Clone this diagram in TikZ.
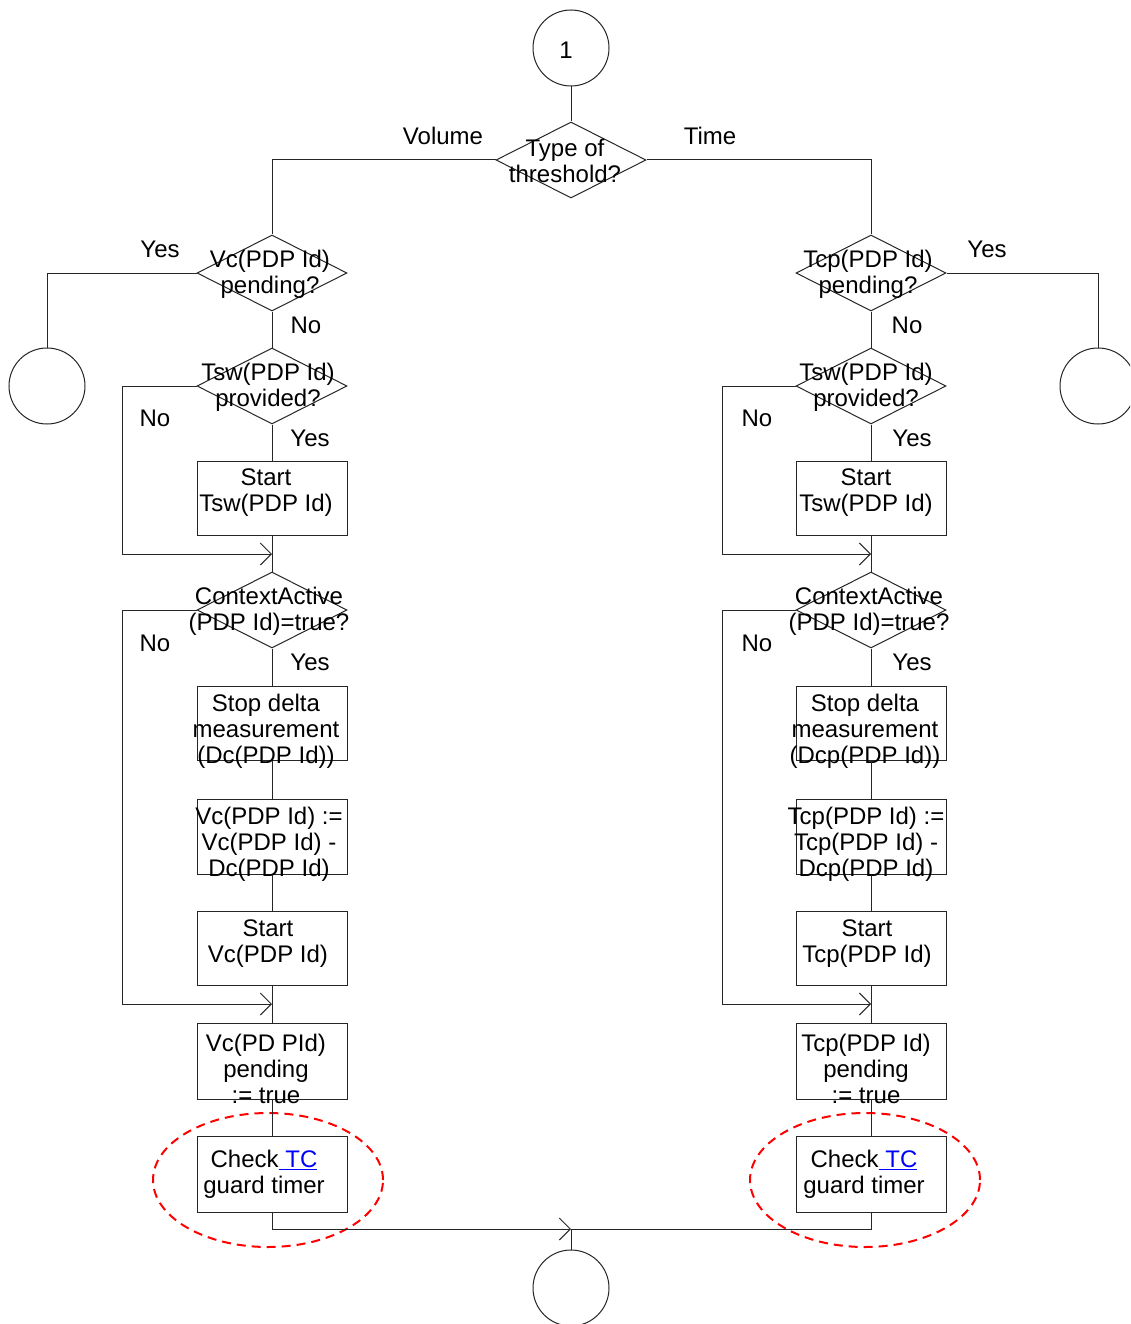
\documentclass[tikz,border=0pt]{standalone}
\usepackage{fontspec}
\setmainfont{Liberation Sans}
\usetikzlibrary{shapes.geometric,arrows.meta}
\newcommand\tclink{\textcolor{blue}{\underline{\ TC}}}
\begin{document}
\begin{tikzpicture}[x=1pt,y=-1pt,
  flow/.style={line width=1pt,draw=black!85},
  barb/.style={-{Straight Barb[length=11pt,width=22pt]}},
  dia/.style={draw=black!85,line width=1pt,diamond,minimum width=150pt,minimum height=76pt,inner sep=0pt},
  proc/.style={draw=black!85,line width=1pt,rectangle,minimum width=150pt,minimum height=74pt,inner sep=0pt},
  conn/.style={draw=black!85,line width=1pt,circle,minimum size=76pt,inner sep=0pt},
  txt/.style={align=center,inner sep=0pt,yshift=-2pt,font=\fontsize{24}{26}\selectfont},
  lbl/.style={inner sep=0pt,font=\fontsize{24}{26}\selectfont},
  guard/.style={draw=red,line width=2pt,dash pattern=on 9pt off 6pt,ellipse,minimum width=230pt,minimum height=134pt,inner sep=0pt}]
\clip (0,0) rectangle (1130,1324);
\fill[white] (0,0) rectangle (1130,1324);

% entry connector and threshold decision
\node[conn] (start) at (571,48) {};
\node[txt] (startT) at (566,48) {1};
\node[dia] (type) at (571,160) {};
\node[txt] (typeT) at (565,159) {Type of\\threshold?};
\node[lbl] (volT) at (443,136) {Volume};
\node[lbl] (timeT) at (710,136) {Time};

% ---------------- volume branch ----------------
\node[dia] (vcL) at (272,273) {};
\node[txt] (vcLT) at (270,272) {Vc(PDP Id)\\pending?};
\node[conn] (cL) at (47,386) {};
\node[dia] (tswL) at (272,386) {};
\node[txt] (tswLT) at (268,385) {Tsw(PDP Id)\\provided?};
\node[proc] (b1L) at (272,498) {};
\node[txt] (b1LT) at (266,491) {Start\\Tsw(PDP Id)};
\node[dia] (caL) at (272,610) {};
\node[txt] (caLT) at (269,609) {ContextActive\\(PDP Id)=true?};
\node[proc] (b2L) at (272,723) {};
\node[txt] (b2LT) at (266,729) {Stop delta\\measurement\\(Dc(PDP Id))};
\node[proc,minimum height=75pt] (b3L) at (272,836.5) {};
\node[txt] (b3LT) at (269,842) {Vc(PDP Id) :=\\Vc(PDP Id) -\\Dc(PDP Id)};
\node[proc] (b4L) at (272,948.5) {};
\node[txt] (b4LT) at (268,942) {Start\\Vc(PDP Id)};
\node[proc,minimum height=76pt] (b5L) at (272,1061) {};
\node[txt] (b5LT) at (266,1067) {Vc(PD PId)\\pending\\:= true};
\node[proc,minimum height=76pt] (b6L) at (272,1174) {};
\node[txt] (b6LT) at (264,1172) {Check\tclink\\guard timer};
\node[guard] (gL) at (268,1180) {};

\node[lbl] (yL1) at (160,249) {Yes};
\node[lbl] (nL1) at (306,325) {No};
\node[lbl] (nL2) at (155,418) {No};
\node[lbl] (yL2) at (310,438) {Yes};
\node[lbl] (nL3) at (155,643) {No};
\node[lbl] (yL3) at (310,662) {Yes};

\coordinate (lpL1) at (122,554);
\coordinate (jL1) at (272,554);
\coordinate (lpL2) at (122,1004);
\coordinate (jL2) at (272,1004);

% ---------------- time branch ----------------
\node[dia] (vcR) at (871,273) {};
\node[txt] (vcRT) at (868,272) {Tcp(PDP Id)\\pending?};
\node[conn] (cR) at (1098,386) {};
\node[dia] (tswR) at (871,386) {};
\node[txt] (tswRT) at (866,385) {Tsw(PDP Id)\\provided?};
\node[proc] (b1R) at (871,498) {};
\node[txt] (b1RT) at (866,491) {Start\\Tsw(PDP Id)};
\node[dia] (caR) at (871,610) {};
\node[txt] (caRT) at (869,609) {ContextActive\\(PDP Id)=true?};
\node[proc] (b2R) at (871,723) {};
\node[txt] (b2RT) at (865,729) {Stop delta\\measurement\\(Dcp(PDP Id))};
\node[proc,minimum height=75pt] (b3R) at (871,836.5) {};
\node[txt] (b3RT) at (866,842) {Tcp(PDP Id) :=\\Tcp(PDP Id) -\\Dcp(PDP Id)};
\node[proc] (b4R) at (871,948.5) {};
\node[txt] (b4RT) at (867,942) {Start\\Tcp(PDP Id)};
\node[proc,minimum height=76pt] (b5R) at (871,1061) {};
\node[txt] (b5RT) at (866,1067) {Tcp(PDP Id)\\pending\\:= true};
\node[proc,minimum height=76pt] (b6R) at (871,1174) {};
\node[txt] (b6RT) at (864,1172) {Check\tclink\\guard timer};
\node[guard] (gR) at (865,1180) {};

\node[lbl] (yR1) at (987,249) {Yes};
\node[lbl] (nR1) at (907,325) {No};
\node[lbl] (nR2) at (757,418) {No};
\node[lbl] (yR2) at (912,438) {Yes};
\node[lbl] (nR3) at (757,643) {No};
\node[lbl] (yR3) at (912,662) {Yes};

\coordinate (lpR1) at (722,554);
\coordinate (jR1) at (871,554);
\coordinate (lpR2) at (722,1004);
\coordinate (jR2) at (871,1004);

% exit connector
\node[conn] (endc) at (571,1288) {};
\coordinate (jB) at (571,1229);

% ---------------- connectors ----------------
\draw[flow] (start.south) -- (type.north);
\draw[flow] (type.west) -| (vcL.north);
\draw[flow] (type.east) -| (vcR.north);

\draw[flow] (vcL.west) -| (cL.north);
\draw[flow] (vcL.south) -- (tswL.north);
\draw[flow] (tswL.south) -- (b1L.north);
\draw[flow] (b1L.south) -- (caL.north);
\draw[flow,barb] (tswL.west) -| (lpL1) -- (jL1);
\draw[flow] (caL.south) -- (b2L.north);
\draw[flow] (b2L.south) -- (b3L.north);
\draw[flow] (b3L.south) -- (b4L.north);
\draw[flow] (b4L.south) -- (b5L.north);
\draw[flow,barb] (caL.west) -| (lpL2) -- (jL2);
\draw[flow] (b5L.south) -- (b6L.north);

\draw[flow] (vcR.east) -| (cR.north);
\draw[flow] (vcR.south) -- (tswR.north);
\draw[flow] (tswR.south) -- (b1R.north);
\draw[flow] (b1R.south) -- (caR.north);
\draw[flow,barb] (tswR.west) -| (lpR1) -- (jR1);
\draw[flow] (caR.south) -- (b2R.north);
\draw[flow] (b2R.south) -- (b3R.north);
\draw[flow] (b3R.south) -- (b4R.north);
\draw[flow] (b4R.south) -- (b5R.north);
\draw[flow,barb] (caR.west) -| (lpR2) -- (jR2);
\draw[flow] (b5R.south) -- (b6R.north);

\draw[flow,barb] (b6L.south) |- (jB);
\draw[flow] (b6R.south) |- (jB);
\draw[flow] (jB) -- (endc.north);
\end{tikzpicture}
\end{document}
